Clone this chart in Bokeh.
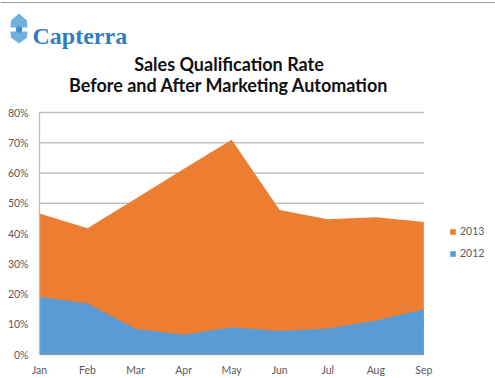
from bokeh.plotting import figure
from bokeh.models import Legend, LegendItem, Range1d
from bokeh.core.properties import value
from bokeh.embed import file_html
from bokeh.resources import INLINE

months = ["Jan", "Feb", "Mar", "Apr", "May", "Jun", "Jul", "Aug", "Sep"]
rate_2013 = [0.466, 0.417, 0.515, 0.613, 0.710, 0.478, 0.447, 0.454, 0.438]
rate_2012 = [0.191, 0.169, 0.085, 0.065, 0.090, 0.078, 0.086, 0.112, 0.150]
y_ticks = [0.0, 0.1, 0.2, 0.3, 0.4, 0.5, 0.6, 0.7, 0.8]
y_tick_labels = ["0%", "10%", "20%", "30%", "40%", "50%", "60%", "70%", "80%"]
title_lines = ["Sales Qualification Rate", "Before and After Marketing Automation"]
brand = "Capterra"

W, H = 495, 378
BASE = 354                  # pixel row of the 0% line
LEFT = 39                   # pixel column of the value axis
PX_MONTH = 48.04            # pixels per month
PX_UNIT = 242 / 0.8         # pixels per unit of rate

# the frame covers the whole canvas; axes are drawn as glyphs
p = figure(width=W, height=H, output_backend="svg", toolbar_location=None,
           x_axis_location=None, y_axis_location=None,
           min_border_left=0, min_border_right=0, min_border_top=0, min_border_bottom=0)
p.x_range = Range1d(-LEFT / PX_MONTH, (W - LEFT) / PX_MONTH)
p.y_range = Range1d(-(H - BASE) / PX_UNIT, BASE / PX_UNIT)
# pixel ranges for the header decoration (origin at the top-left of the canvas)
p.extra_x_ranges = {"px": Range1d(0, W)}
p.extra_y_ranges = {"px": Range1d(H, 0)}

p.outline_line_color = None
p.grid.visible = False

xs = list(range(len(months)))
last = len(months) - 1
font = value("Lato")

# gridlines, areas, value axis
p.segment(x0=[0] * len(y_ticks), y0=y_ticks, x1=[last] * len(y_ticks), y1=y_ticks,
          line_color="#BFBFBF", line_width=1.3)
r13 = p.varea(x=xs, y1=[0] * len(xs), y2=rate_2013, fill_color="#ED7D31")
r12 = p.varea(x=xs, y1=[0] * len(xs), y2=rate_2012, fill_color="#5B9BD5")
p.segment(x0=[0], y0=[y_ticks[0]], x1=[0], y1=[y_ticks[-1]], line_color="#BFBFBF", line_width=1.3)
p.text(x=[0] * len(y_ticks), y=y_ticks, text=y_tick_labels, x_offset=-11,
       text_align="right", text_baseline="middle", text_font=font,
       text_font_size="10.5px", text_color="#595959")
# month labels
p.text(x=xs, y=[0] * len(xs), text=months, y_offset=15,
       text_align="center", text_baseline="middle", text_font=font,
       text_font_size="10.5px", text_color="#595959")

# header: top rule, logo, brand, title
p.quad(left=[0], right=[W], top=[1.4], bottom=[2.6], fill_color="#9A9A9A", line_color=None,
       x_range_name="px", y_range_name="px")
p.patch(x=[18.5, 26.5, 27, 10, 10.5], y=[13, 20, 27, 27, 20], fill_color="#6FB1DD", line_color=None,
        x_range_name="px", y_range_name="px")
p.patch(x=[10, 27, 26.5, 18.5, 10.5], y=[31, 31, 37, 43, 37], fill_color="#6FB1DD", line_color=None,
        x_range_name="px", y_range_name="px")
p.ellipse(x=[18.5], y=[29], width=6.5, height=6.5, fill_color="#3F8CC6", line_color=None,
          x_range_name="px", y_range_name="px")
p.text(x=[32], y=[35], text=[brand], x_range_name="px", y_range_name="px",
       text_align="left", text_baseline="alphabetic", text_font=value("Liberation Serif"),
       text_font_style="bold", text_font_size="24px", text_color="#2E7EBE")
p.text(x=[228.5, 228.5], y=[63, 84], text=title_lines, x_range_name="px", y_range_name="px",
       text_align="center", text_baseline="middle", text_font=font,
       text_font_style="bold", text_font_size="18px", text_color="#111111")

legend = Legend(items=[LegendItem(label="2013", renderers=[r13]),
                       LegendItem(label="2012", renderers=[r12])],
                location=(449, 118), orientation="vertical",
                glyph_width=7, glyph_height=7, label_height=14, spacing=8,
                padding=0, margin=0, border_line_color=None, background_fill_alpha=0,
                label_text_font="Lato", label_text_font_size="10.5px",
                label_text_color="#595959", label_standoff=4)
p.add_layout(legend)

open("out.html", "w").write(file_html(p, INLINE))
